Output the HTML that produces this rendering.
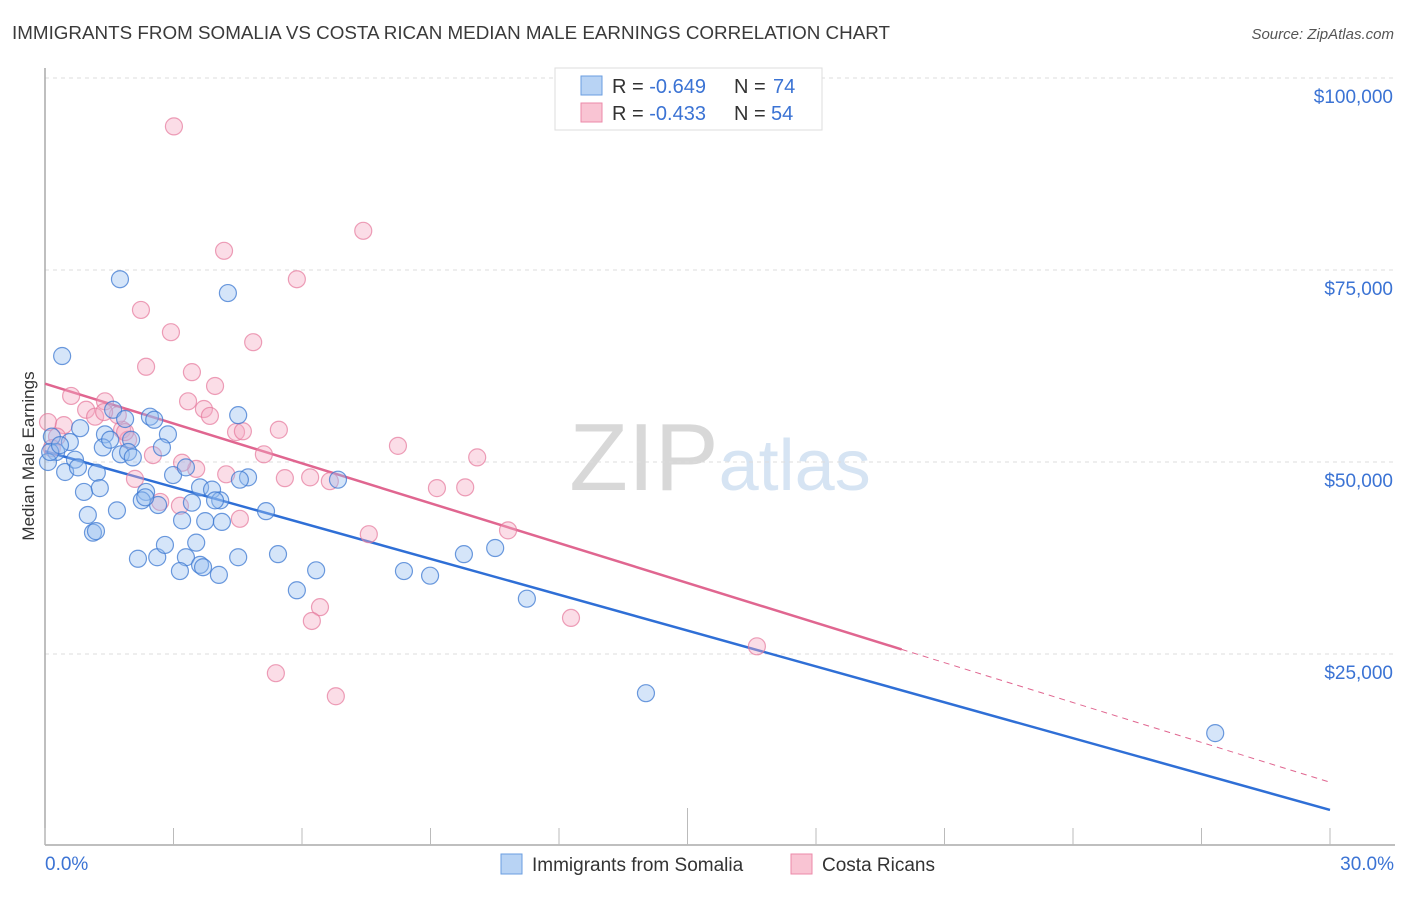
<!DOCTYPE html>
<html><head><meta charset="utf-8"><style>
body{margin:0;background:#fff;font-family:"Liberation Sans",sans-serif;}
svg text{font-family:"Liberation Sans",sans-serif;}
</style></head><body>
<svg id="chart" width="1406" height="892" xmlns="http://www.w3.org/2000/svg">
<text x="12" y="39" font-size="18" fill="#3a3a3a" textLength="878" lengthAdjust="spacingAndGlyphs">IMMIGRANTS FROM SOMALIA VS COSTA RICAN MEDIAN MALE EARNINGS CORRELATION CHART</text>
<text x="1394" y="39" font-size="15" fill="#555" text-anchor="end" font-style="italic">Source: ZipAtlas.com</text>
<text x="720" y="490" font-size="96" text-anchor="middle" fill="#e4e4e4" font-family="Liberation Serif"><tspan fill="#d8d8d8">ZIP</tspan><tspan fill="#d6e4f3" font-family="Liberation Sans" font-size="72">atlas</tspan></text>
<text transform="translate(34,456) rotate(-90)" font-size="17" fill="#333" text-anchor="middle">Median Male Earnings</text>
<g id="grid"></g><g id="axes"></g><g id="trends"></g><g id="pts"></g>
<g>
<rect x="555" y="68" width="267" height="62" fill="#fff" stroke="#ddd"/>
<rect x="581" y="76" width="21" height="19" fill="#b8d3f4" stroke="#6a9ee0"/>
<rect x="581" y="103" width="21" height="19" fill="#f9c4d3" stroke="#ec8aaa"/>
<text x="612" y="93" font-size="20" fill="#333">R = <tspan fill="#3b73d4">-0.649</tspan></text>
<text x="734" y="93" font-size="20" fill="#333">N = </text>
<text x="773" y="93" font-size="20" fill="#3b73d4">74</text>
<text x="612" y="120" font-size="20" fill="#333">R = <tspan fill="#3b73d4">-0.433</tspan></text>
<text x="734" y="120" font-size="20" fill="#333">N = </text>
<text x="771" y="120" font-size="20" fill="#3b73d4">54</text>
</g>
<g>
<rect x="501" y="854" width="21" height="20" fill="#b8d3f4" stroke="#6a9ee0"/>
<text x="532" y="871" font-size="19" fill="#333">Immigrants from Somalia</text>
<rect x="791" y="854" width="21" height="20" fill="#f9c4d3" stroke="#ec8aaa"/>
<text x="822" y="871" font-size="19" fill="#333">Costa Ricans</text>
</g>
</svg>
<script>
const blueX=[0.40,1.75,4.27,0.16,0.26,0.07,0.58,0.47,0.70,0.77,1.21,0.82,0.91,1.28,1.00,1.12,1.19,1.68,1.40,1.35,1.59,1.87,2.01,1.77,1.94,2.05,2.45,2.55,2.87,2.73,2.99,3.29,2.36,2.26,2.64,3.43,3.62,3.90,4.09,3.97,3.20,3.74,4.13,4.51,4.74,2.17,2.62,2.80,3.29,3.15,3.53,3.62,3.69,4.06,4.51,5.16,5.44,5.88,6.33,6.84,8.38,8.99,9.78,10.51,11.25,14.03,27.32,0.12,0.35,1.52,2.34,4.55];
const blueY=[63.8,73.8,72.0,53.3,51.3,50.0,52.6,48.7,50.3,49.3,48.6,54.4,46.1,46.6,43.1,40.8,41.0,43.7,53.6,51.9,56.8,55.6,52.9,51.0,51.3,50.6,55.9,55.5,53.6,51.9,48.3,49.3,46.1,45.0,44.4,44.7,46.7,46.4,45.0,45.0,42.4,42.3,42.2,56.1,48.0,37.4,37.6,39.2,37.6,35.8,39.5,36.6,36.3,35.3,37.6,43.6,38.0,33.3,35.9,47.7,35.8,35.2,38.0,38.8,32.2,19.9,14.7,51.3,52.2,52.9,45.4,47.7];
const pinkX=[3.01,7.43,4.18,5.88,2.24,2.94,4.86,2.36,3.43,3.97,0.61,1.40,0.96,0.07,0.44,0.28,1.17,1.80,1.94,1.70,3.34,3.71,3.85,4.46,4.62,5.46,5.11,3.53,4.23,3.20,2.52,2.10,2.69,3.15,4.55,5.60,6.19,6.65,7.56,8.24,9.15,9.81,10.09,10.81,12.28,6.42,6.23,5.39,6.79,16.62,1.38,0.16,1.87];
const pinkY=[93.7,80.1,77.5,73.8,69.8,66.9,65.6,62.4,61.7,59.9,58.6,57.9,56.8,55.2,54.8,53.3,55.9,54.2,52.9,56.1,57.9,56.9,56.0,53.9,54.0,54.2,51.0,49.1,48.4,49.9,50.9,47.8,44.8,44.3,42.6,47.9,48.0,47.5,40.6,52.1,46.6,46.7,50.6,41.1,29.7,31.1,29.3,22.5,19.5,26.0,56.5,51.8,53.9];
const blueTrend=[51.4,4.7];
const pinkTrend=[60.2,8.3];
const pinkSolidEnd=20.0;
const yTicks=[25,50,75,100];
const yTickLabels=["$25,000","$50,000","$75,000","$100,000"];
const xTicks=[0,3,6,9,12,15,18,21,24,27,30];
const NS="http://www.w3.org/2000/svg";
const sx=v=>45+v/30*1285;
const sy=v=>846-v/25*192;
function mk(tag,attrs,parent){const e=document.createElementNS(NS,tag);for(const k in attrs)e.setAttribute(k,attrs[k]);document.getElementById(parent).appendChild(e);return e;}
yTicks.forEach((t,i)=>{
 const g=mk('line',{x1:45,x2:1395,y1:sy(t),y2:sy(t),stroke:'#ddd','stroke-dasharray':'4,4'},'grid');
 
 
 const tx=mk('text',{x:1393,y:sy(t)+25,'font-size':19,fill:'#3b73d4','text-anchor':'end'},'grid');
 tx.textContent=yTickLabels[i];
 
 
});
const ax=mk('line',{x1:45,x2:1395,y1:845,y2:845,stroke:'#aaa','stroke-width':1.5},'axes');


const ay=mk('line',{x1:45,x2:45,y1:68,y2:845,stroke:'#aaa','stroke-width':1.5},'axes');


xTicks.forEach(t=>{
 const l=mk('line',{x1:sx(t),x2:sx(t),y1:t===15?808:828,y2:845,stroke:'#bbb'},'axes');
 
 
});
const x0=mk('text',{x:45,y:870,'font-size':19,fill:'#3b73d4'},'axes');x0.textContent='0.0%';


const x1=mk('text',{x:1394,y:870,'font-size':19,fill:'#3b73d4','text-anchor':'end'},'axes');x1.textContent='30.0%';


const pv=x=>pinkTrend[0]+(pinkTrend[1]-pinkTrend[0])*x/30;
const bt=mk('line',{x1:sx(0),y1:sy(blueTrend[0]),x2:sx(30),y2:sy(blueTrend[1]),stroke:'#2f6fd6','stroke-width':2.5},'trends');


const pt=mk('line',{x1:sx(0),y1:sy(pinkTrend[0]),x2:sx(pinkSolidEnd),y2:sy(pv(pinkSolidEnd)),stroke:'#e06690','stroke-width':2.5},'trends');


const pd=mk('line',{x1:sx(pinkSolidEnd),y1:sy(pv(pinkSolidEnd)),x2:sx(30),y2:sy(pinkTrend[1]),stroke:'#e06690','stroke-width':1,'stroke-dasharray':'6,5'},'trends');


pinkX.forEach((x,i)=>{
 const c=mk('circle',{cx:sx(x),cy:sy(pinkY[i]),r:8.5,fill:'rgba(245,170,195,0.4)',stroke:'rgba(230,120,155,0.7)','stroke-width':1.2},'pts');
 
 
});
blueX.forEach((x,i)=>{
 const c=mk('circle',{cx:sx(x),cy:sy(blueY[i]),r:8.5,fill:'rgba(150,190,240,0.4)',stroke:'rgba(60,120,210,0.75)','stroke-width':1.2},'pts');
 
 
});
</script>
</body></html>
